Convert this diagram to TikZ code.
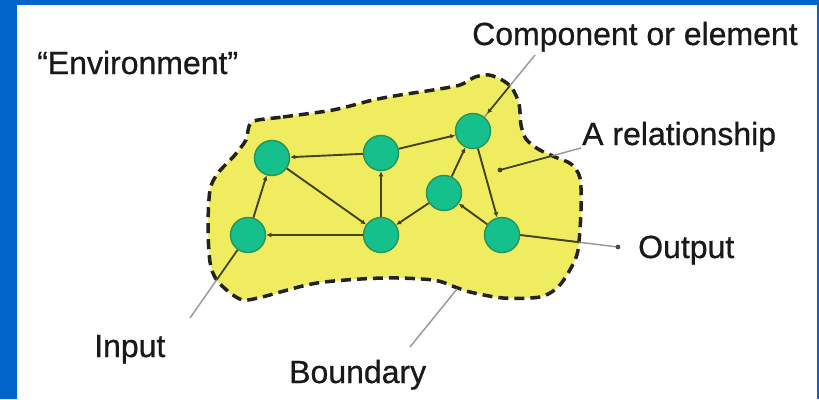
\documentclass[tikz,border=0pt]{standalone}
\usepackage{fontspec}
\setmainfont{Liberation Sans}
\newfontfamily\lblfont{Liberation Sans}[BoldFont=Liberation Sans,BoldFeatures={FakeBold=0.7}]
\usetikzlibrary{arrows.meta}
\definecolor{frameblue}{RGB}{0,102,204}
\definecolor{blobyellow}{RGB}{240,236,96}
\definecolor{blobline}{RGB}{35,35,28}
\definecolor{nodegreen}{RGB}{22,192,140}
\definecolor{nodeline}{RGB}{40,150,90}
\definecolor{edgecol}{RGB}{68,68,28}
\definecolor{labelgray}{RGB}{150,150,150}
\tikzset{
  comp/.style={circle,fill=nodegreen,draw=nodeline,line width=1.5pt,minimum size=35pt,inner sep=0pt},
  edge/.style={draw=edgecol,line width=1.9pt,-{Latex[length=5pt,width=5pt]}},
  lbl/.style={font=\lblfont\bfseries\fontsize{32}{38}\selectfont,anchor=base west,inner sep=0pt,text=black!90},
  pointer/.style={line width=1.4pt},
}
\begin{document}
\begin{tikzpicture}[x=1pt,y=-1pt]
\useasboundingbox (0,0) rectangle (819,399);
\fill[white] (0,0) rectangle (819,399);
% blue frame
\fill[frameblue] (0,0) rectangle (17,399);
\fill[frameblue] (0,0) rectangle (819,5);
\fill[frameblue] (817,0) rectangle (819,399);
% blob
\def\blobpath{plot[smooth cycle,tension=0.5] coordinates {
 (252,122) (283,117) (333,110) (373,100) (400,95) (433,90) (460,85) (475,77) (489,75) (502,80) (512,88) (519,104) (521,125) (526,139) (538,149) (555,157) (571,164) (580,178) (581,210) (578,250) (571,268) (558,287) (540,297) (503,298) (470,292) (455,287) (433,280) (383,278) (317,283) (262,297) (243,300) (229,292) (216,279) (210,262) (208,227) (210,190) (218,173) (234,156) (246,140)}}
\fill[blobyellow] \blobpath;
\draw[blobline,line width=3.5pt,dash pattern=on 10pt off 6pt] \blobpath;
% components
\node[comp] (n1) at (272,158) {};
\node[comp] (n2) at (381,153) {};
\node[comp] (n3) at (473,131) {};
\node[comp] (n4) at (444,193) {};
\node[comp] (n5) at (248,235) {};
\node[comp] (n6) at (381,235) {};
\node[comp] (n7) at (502,235) {};
% relationships
\draw[edge] (n2) -- (n1);
\draw[edge] (n5) -- (n1);
\draw[edge] (n1) -- (n6);
\draw[edge] (n6) -- (n5);
\draw[edge] (n6) -- (n2);
\draw[edge] (n2) -- (n3);
\draw[edge] (n4) -- (n3);
\draw[edge] (n4) -- (n6);
\draw[edge] (n7) -- (n4);
\draw[edge] (n3) -- (n7);
% labels
\node[lbl] (env) at (37,74) {“Environment”};
\node[lbl] (compl) at (472,45) {Component or element};
\node[lbl] (rel) at (582,145) {A relationship};
\node[lbl] (out) at (638,258) {Output};
\node[lbl] (inp) at (94,357) {Input};
\node[lbl] (bnd) at (289,383) {Boundary};
% pointer end points
\coordinate (cS) at (535,55);
\coordinate (rS) at (581,148);
\coordinate (rE) at (500,170);
\coordinate (oE) at (618,247);
\coordinate (iS) at (190,318);
\coordinate (bS) at (410,347);
\coordinate (bE) at (457,289);
% pointers, gray outside the boundary
\draw[pointer,labelgray] (cS) -- (n3);
\draw[pointer,labelgray] (rS) -- (rE);
\draw[pointer,labelgray] (n7.east) -- (oE);
\draw[pointer,labelgray] (iS) -- (n5);
\draw[pointer,labelgray] (bS) -- (bE);
% darker inside the boundary
\begin{scope}
\clip \blobpath;
\draw[pointer,edgecol,line width=1.7pt,-{Latex[length=5pt,width=5pt]},shorten >=4pt] (cS) -- (n3);
\draw[pointer,edgecol,line width=1.7pt] (rS) -- (rE);
\draw[pointer,edgecol,line width=1.9pt] (n7.east) -- (oE);
\draw[pointer,edgecol,line width=1.7pt] (iS) -- (n5);
\end{scope}
\fill[edgecol] (rE) circle (2.4pt);
\fill[black!70] (oE) circle (2.4pt);
\end{tikzpicture}
\end{document}
